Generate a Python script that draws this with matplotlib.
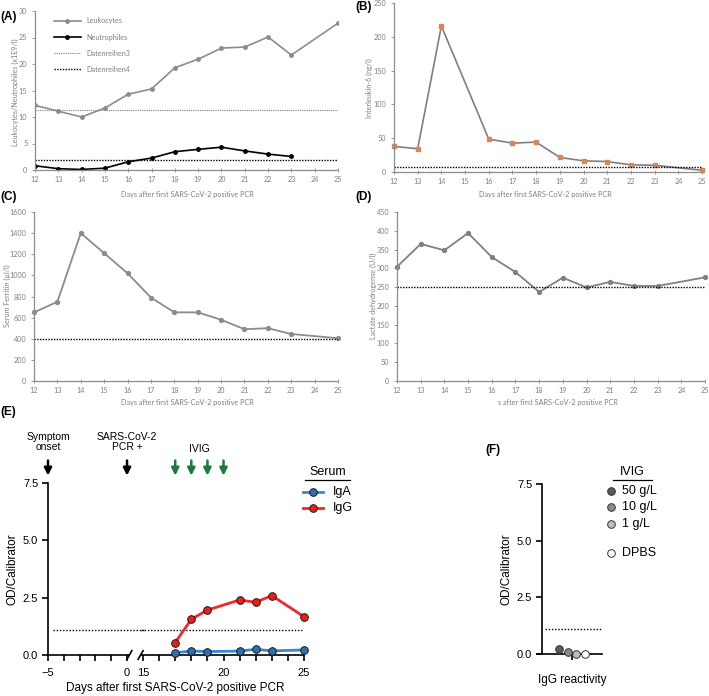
import matplotlib
matplotlib.use('Agg')
import matplotlib.pyplot as plt
import numpy as np

W, H = 709, 696

# ---------------- data
days_a = [12, 13, 14, 15, 16, 17, 18, 19, 20, 21, 22, 23, 25]
leuko = [12.2, 11.1, 10.0, 11.7, 14.3, 15.3, 19.3, 20.9, 23.0, 23.2, 25.1, 21.7, 27.7]
days_neut = [12, 13, 14, 15, 16, 17, 18, 19, 20, 21, 22, 23]
neutro = [0.8, 0.25, 0.1, 0.35, 1.55, 2.25, 3.45, 3.9, 4.3, 3.6, 3.0, 2.55]
leuko_ref = 11.3
neutro_ref = 1.8

days_il6 = [12, 13, 14, 16, 17, 18, 19, 20, 21, 22, 23, 25]
il6 = [37.8, 34.4, 216, 48.6, 42.7, 44.2, 21.5, 16.5, 15.5, 10.5, 10.0, 2.5]
il6_ref = 8

days_fer = [12, 13, 14, 15, 16, 17, 18, 19, 20, 21, 22, 23, 25]
ferritin = [650, 750, 1400, 1210, 1020, 790, 650, 650, 580, 490, 500, 445, 405]
fer_ref = 400

days_ldh = [12, 13, 14, 15, 16, 17, 18, 19, 20, 21, 22, 23, 25]
ldh = [304, 365, 348, 394, 330, 290, 237, 275, 249, 264, 253, 253, 276]
ldh_ref = 250

days_ab = [17, 18, 19, 21, 22, 23, 25]
igg = [0.54, 1.56, 1.96, 2.40, 2.30, 2.59, 1.67]
iga = [0.10, 0.17, 0.15, 0.17, 0.25, 0.18, 0.22]
ab_cutoff = 1.1
onset_day = -5
pcr_day = 0
ivig_days = [17, 18, 19, 20]

ivig_groups = ['50 g/L', '10 g/L', '1 g/L', 'DPBS']
ivig_od = [0.22, 0.07, 0.02, 0.01]
ivig_colors = ['#5a5a5a', '#8a8a8a', '#bdbdbd', 'white']

# ---------------- figure
fig = plt.figure(figsize=(W / 100, H / 100), dpi=100)

def px_axes(x0, x1, y0, y1):
    return fig.add_axes([x0 / W, 1 - y1 / H, (x1 - x0) / W, (y1 - y0) / H])

def ftext(x, y, s, **kw):
    fig.text(x / W, 1 - y / H, s, **kw)

XL = 'Days after first SARS-CoV-2 positive PCR'
EXF = 'Lato'
GR = '#808080'
FS = 5.2

def excel_axes(x0, x1, y0, y1, ymax, ystep):
    ax = px_axes(x0, x1, y0, y1)
    ax.set_xlim(12, 25)
    ax.set_ylim(0, ymax)
    ax.set_xticks(range(12, 26))
    ax.set_yticks(np.arange(0, ymax + 1, ystep))
    for s in ['top', 'right']:
        ax.spines[s].set_visible(False)
    for s in ['left', 'bottom']:
        ax.spines[s].set_color('#8c8c8c')
        ax.spines[s].set_linewidth(0.9)
    ax.tick_params(color='#8c8c8c', labelcolor=GR, labelsize=FS, length=2.5,
                   width=0.6, pad=3)
    ax.tick_params(axis='x', direction='inout', length=3)
    for lab in ax.get_xticklabels() + ax.get_yticklabels():
        lab.set_fontfamily(EXF)
    return ax

# (A)
ax = excel_axes(35, 338, 11, 170, 30, 5)
ax.plot(days_a, leuko, color='#8c8c8c', lw=1.2, marker='o', ms=2.5, label='Leukocytes')
ax.plot(days_neut, neutro, color='black', lw=1.2, marker='o', ms=2.5, label='Neutrophiles')
ax.axhline(leuko_ref, color='#7f7f7f', ls=(0, (1, 1)), lw=0.8, label='Datenreihen3')
ax.axhline(neutro_ref, color='black', ls=(0, (1, 1)), lw=1.0, label='Datenreihen4')
leg = ax.legend(loc='upper left', bbox_to_anchor=(0.04, 1.0), frameon=False,
                labelspacing=1.25, handlelength=3.8, prop={'family': EXF, 'size': FS})
for t in leg.get_texts():
    t.set_color(GR)
ftext(15, 92, 'Leukocytes/Neutrophiles (x1E9/l)', rotation=90, ha='center', va='center',
      fontsize=FS, color=GR, family=EXF)
ftext(187, 194, XL, ha='center', va='center', fontsize=FS, color=GR, family=EXF)

# (B)
ax = excel_axes(394, 702, 3, 172, 250, 50)
ax.plot(days_il6, il6, color='#7f7f7f', lw=1.2, marker='s', ms=2.2,
        mfc='#d9875a', mec='#d9875a', clip_on=False)
ax.axhline(il6_ref, color='black', ls=(0, (1, 1)), lw=1.0)
ftext(369, 88, 'Interleukin-6 (ng/l)', rotation=90, ha='center', va='center',
      fontsize=FS, color=GR, family=EXF)
ftext(545, 194, XL, ha='center', va='center', fontsize=FS, color=GR, family=EXF)

# (C)
ax = excel_axes(34, 338, 212, 381, 1600, 200)
ax.plot(days_fer, ferritin, color='#8c8c8c', lw=1.3, marker='o', ms=2.8, clip_on=False)
ax.axhline(fer_ref, color='black', ls=(0, (1, 1)), lw=1.0)
ftext(7, 296, 'Serum Ferritin (µl/l)', rotation=90, ha='center', va='center',
      fontsize=FS, color=GR, family=EXF)
ftext(187, 402, XL, ha='center', va='center', fontsize=FS, color=GR, family=EXF)

# (D)
ax = excel_axes(397, 705, 212, 381, 450, 50)
ax.plot(days_ldh, ldh, color='#808080', lw=1.3, marker='o', ms=2.8, clip_on=False)
ax.axhline(ldh_ref, color='black', ls=(0, (1, 1)), lw=1.0)
ftext(373, 296, 'Lactate dehydrogense (U/l)', rotation=90, ha='center', va='center',
      fontsize=FS, color=GR, family=EXF)
ftext(558, 402, 's after first SARS-CoV-2 positive PCR', ha='center', va='center',
      fontsize=FS, color=GR, family=EXF)

# ---------------- (E)  broken x axis
AR = 'Liberation Sans'
plt.rcParams['font.family'] = AR
LW = 1.2

def prism(ax):
    for s in ['top', 'right']:
        ax.spines[s].set_visible(False)
    for s in ['left', 'bottom']:
        ax.spines[s].set_linewidth(LW)
    ax.tick_params(which='both', length=4, width=LW, labelsize=8, pad=3)
    ax.set_ylim(0, 7.5)
    ax.set_yticks([0, 2.5, 5.0, 7.5])
    ax.set_yticklabels(['0.0', '2.5', '5.0', '7.5'])

ax_l = px_axes(48, 129.4, 483, 655)
ax_r = px_axes(140.6, 304, 483, 655)
for a in (ax_l, ax_r):
    prism(a)
    a.patch.set_alpha(0)
    a.tick_params(axis='x', pad=5)
ax_l.set_xlim(-5, 0.15)
ax_l.set_xticks([-5, 0])
ax_l.set_xticks(range(-4, 0), minor=True)
ax_r.set_xlim(14.85, 25)
ax_r.set_xticks([15, 20, 25])
ax_r.set_xticks(range(16, 25), minor=True)
ax_r.spines['left'].set_visible(False)
ax_r.tick_params(axis='y', left=False, labelleft=False)
ax_l.set_ylabel('OD/Calibrator', fontsize=8.5, labelpad=3)

ax_r.plot(days_ab, iga, color='#3d85c6', lw=2, marker='o', ms=5.5, mfc='#2f6fb0',
          mec='#1a1a1a', mew=0.7, clip_on=False, zorder=3)
ax_r.plot(days_ab, igg, color='#f0282a', lw=2, marker='o', ms=5.5, mfc='#e8201c',
          mec='#1a1a1a', mew=0.7, clip_on=False, zorder=3)
ax_l.plot([-4.7, 1.05], [ab_cutoff] * 2, color='black', ls=(0, (1, 1.3)), lw=1.0, clip_on=False)
ax_r.plot([14.85, 24.85], [ab_cutoff] * 2, color='black', ls=(0, (1, 1.3)), lw=1.0)

# break marks
for a, xb in ((ax_l, 1.0), (ax_r, 0.0)):
    a.plot([xb - 0.03 if xb else -0.015, xb + 0.03 if xb else 0.015],
           [-0.025, 0.025], transform=a.transAxes, color='black', lw=LW, clip_on=False)

ftext(175, 688, XL, ha='center', va='center', fontsize=8.5)

arr = dict(arrowstyle='-|>', color='black', lw=1.8, mutation_scale=11)
garr = dict(arrowstyle='-|>', color='#1b7a3e', lw=1.8, mutation_scale=11)
ax_l.annotate('', xy=(onset_day, 7.7), xytext=(onset_day, 8.6), arrowprops=arr,
              annotation_clip=False)
ax_l.annotate('', xy=(pcr_day, 7.7), xytext=(pcr_day, 8.6), arrowprops=arr,
              annotation_clip=False)
for d in ivig_days:
    ax_r.annotate('', xy=(d, 7.7), xytext=(d, 8.6), arrowprops=garr, annotation_clip=False)
ax_l.text(onset_day, 9.3, 'Symptom\nonset', ha='center', va='center', fontsize=7.5,
          linespacing=1.0, clip_on=False)
ax_l.text(pcr_day, 9.3, 'SARS-CoV-2\nPCR +', ha='center', va='center', fontsize=7.5,
          linespacing=1.0, clip_on=False)
ax_r.text(np.mean(ivig_days), 9.0, 'IVIG', ha='center', va='center', fontsize=7.5,
          clip_on=False)

# serum legend (figure pixel overlay)
ov = fig.add_axes([0, 0, 1, 1])
ov.set_xlim(0, W)
ov.set_ylim(H, 0)
ov.axis('off')
ov.text(328, 472, 'Serum', ha='center', va='center', fontsize=9)
ov.plot([305, 350], [480, 480], color='black', lw=0.9)
for yy, lab, lc, fc in ((492, 'IgA', '#3d85c6', '#2f6fb0'), (508, 'IgG', '#f0282a', '#e8201c')):
    ov.plot([303, 323], [yy, yy], color=lc, lw=2)
    ov.plot([313], [yy], marker='o', ms=5.5, mfc=fc, mec='#1a1a1a', mew=0.7)
    ov.text(333, yy, lab, ha='left', va='center', fontsize=9)

# ---------------- (F)
ax_f = px_axes(542, 602, 484, 654)
prism(ax_f)
ax_f.patch.set_alpha(0)
ax_f.set_xlim(0, 1)
ax_f.set_xticks([0.5])
ax_f.set_xticklabels([])
ax_f.spines['bottom'].set_bounds(-0.08, 1)
ax_f.set_ylabel('OD/Calibrator', fontsize=8.5, labelpad=3)
xf = np.linspace(0.28, 0.72, len(ivig_od))
for xx, v, c in zip(xf, ivig_od, ivig_colors):
    ax_f.plot([xx], [v], marker='o', ms=5.5, mfc=c, mec='#333333', mew=0.7,
              clip_on=False, zorder=3)
ax_f.plot([0.05, 0.98], [ab_cutoff] * 2, color='black', ls=(0, (1, 1.3)), lw=1.0)
ftext(572, 680, 'IgG reactivity', ha='center', va='center', fontsize=8.5)

ov.text(632, 472, 'IVIG', ha='center', va='center', fontsize=9)
ov.plot([613, 652], [480, 480], color='black', lw=0.9)
for yy, lab, c in zip([491, 507, 524, 553], ivig_groups, ivig_colors):
    ov.plot([611], [yy], marker='o', ms=5.5, mfc=c, mec='#333333', mew=0.7)
    ov.text(622, yy, lab, ha='left', va='center', fontsize=9)

# panel letters
for x, y, s in ((0, 17, '(A)'), (355, 7, '(B)'), (0, 197, '(C)'), (355, 197, '(D)'),
                (0, 412, '(E)'), (485, 450, '(F)')):
    ftext(x, y, s, ha='left', va='center', fontsize=8.5, fontweight='bold')

fig.savefig('out.png', dpi=100)
